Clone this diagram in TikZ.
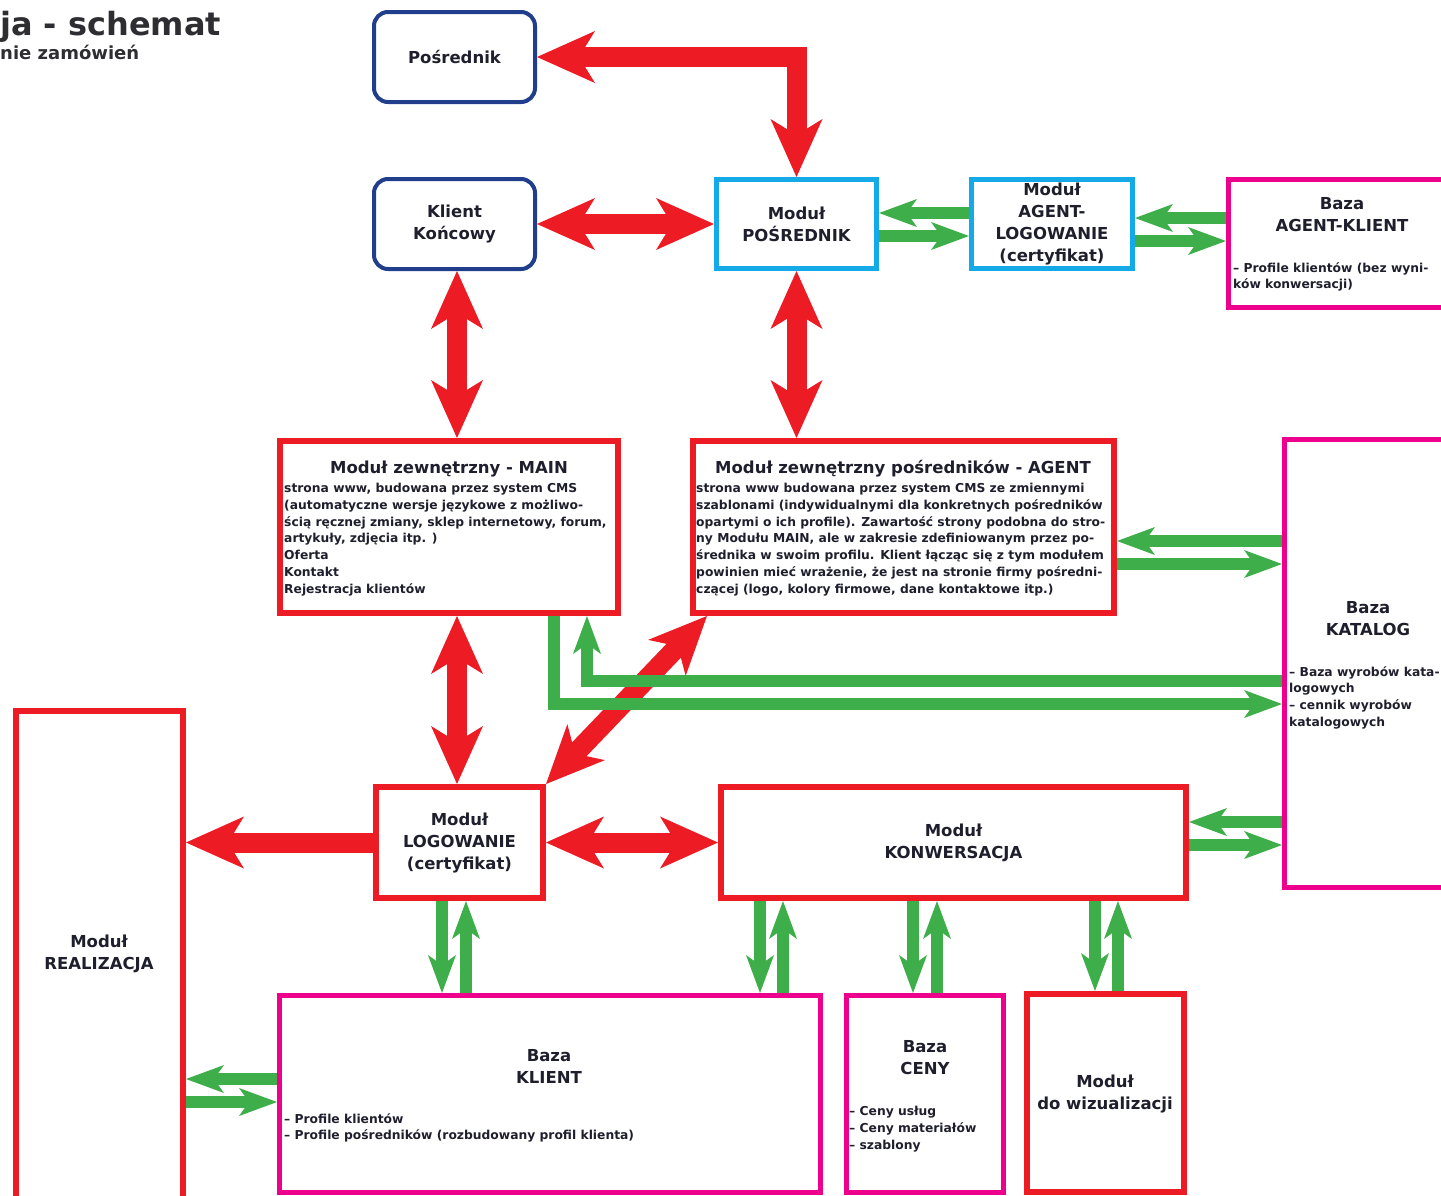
\documentclass[tikz,border=0pt]{standalone}
\usepackage{fontspec}
\setmainfont{DejaVu Sans}
\usetikzlibrary{arrows.meta}
\definecolor{cred}{RGB}{237,28,36}
\definecolor{cgreen}{RGB}{61,174,73}
\definecolor{cmag}{RGB}{236,0,140}
\definecolor{ccyan}{RGB}{20,170,232}
\definecolor{cnavy}{RGB}{32,62,140}
\definecolor{ctext}{RGB}{30,30,45}
\definecolor{chead}{RGB}{45,45,50}
\newcommand\tfnt{\bfseries\fontsize{16.5}{22}\selectfont}
\newcommand\bfnt{\bfseries\fontsize{12.3}{16.8}\selectfont}
\tikzset{
  rtip/.tip={Stealth[length=58pt,width=52pt,inset=16pt,line width=0pt]},
  gtip/.tip={Stealth[length=38pt,width=28pt,inset=10pt,line width=0pt]},
  redarr/.style={draw=cred, line width=20pt},
  grarr/.style={draw=cgreen, line width=12pt, -gtip},
  basebox/.style={inner sep=0pt, align=center, font=\tfnt, text=ctext},
  nbox/.style={basebox, draw=cnavy, line width=4pt, rounded corners=14pt},
  cbox/.style={basebox, draw=ccyan, line width=5pt},
  rbox/.style={basebox, draw=cred, line width=6pt},
  mbox/.style={basebox, draw=cmag, line width=5pt},
  tnode/.style={inner sep=0pt, align=center, font=\tfnt, text=ctext},
  bnode/.style={inner sep=0pt, align=left, font=\bfnt, text=ctext, anchor=north west},
}
\begin{document}
\begin{tikzpicture}[x=1pt,y=-1pt]
\useasboundingbox (0,0) rectangle (1441,1195);
% heading
\node[anchor=base west, inner sep=0pt, font=\bfseries\fontsize{32}{36}\selectfont, text=chead] (head1) at (0,35) {ja - schemat};
\node[anchor=base west, inner sep=0pt, font=\bfseries\fontsize{18}{20}\selectfont, text=chead] (head2) at (0,59) {nie zamówień};
% boxes
\node[nbox, minimum width=161pt, minimum height=90pt] (posr) at (454.5,57) {Pośrednik};
\node[nbox, minimum width=161pt, minimum height=90pt] (klient) at (454.5,224) {Klient\\Końcowy};
\node[cbox, minimum width=160pt, minimum height=89pt] (modposr) at (796.5,224) {Moduł\\POŚREDNIK};
\node[cbox, minimum width=161pt, minimum height=89pt] (agentlog) at (1052,224) {Moduł\\AGENT-\\LOGOWANIE\\(certyfikat)};
\node[mbox, minimum width=235pt, minimum height=128pt] (akl) at (1346,243.5) {};
\node[tnode] (aklT) at (1342,215) {Baza\\AGENT-KLIENT};
\node[bnode] (aklB) at (1233,262) {– Profile klientów (bez wyni-\\ków konwersacji)};

\node[rbox, minimum width=338pt, minimum height=172pt] (main) at (449,527) {};
\node[tnode] (mainT) at (449,469) {Moduł zewnętrzny - MAIN};
\node[bnode] (mainB) at (284,483) {strona www, budowana przez system CMS\\(automatyczne wersje językowe z możliwo-\\ścią ręcznej zmiany, sklep internetowy, forum,\\artykuły, zdjęcia itp. )\\Oferta\\Kontakt\\Rejestracja klientów};

\node[rbox, minimum width=421pt, minimum height=172pt] (agent) at (903.5,527) {};
\node[tnode] (agentT) at (903,469) {Moduł zewnętrzny pośredników - AGENT};
\node[bnode] (agentB) at (696,483) {strona www budowana przez system CMS ze zmiennymi\\szablonami (indywidualnymi dla konkretnych pośredników\\opartymi o ich profile). Zawartość strony podobna do stro-\\ny Modułu MAIN, ale w zakresie zdefiniowanym przez po-\\średnika w swoim profilu. Klient łącząc się z tym modułem\\powinien mieć wrażenie, że jest na stronie firmy pośredni-\\czącej (logo, kolory firmowe, dane kontaktowe itp.)};

\node[mbox, minimum width=173pt, minimum height=448pt] (katalog) at (1371,663.5) {};
\node[tnode] (katT) at (1368,619) {Baza\\KATALOG};
\node[bnode] (katB) at (1289,666) {– Baza wyrobów kata-\\logowych\\– cennik wyrobów\\katalogowych};

\node[rbox, minimum width=167pt, minimum height=501pt] (realiz) at (99.5,961.5) {};
\node[tnode] (realT) at (99,954) {Moduł\\REALIZACJA};

\node[rbox, minimum width=167pt, minimum height=111pt] (logow) at (459.5,842.5) {Moduł\\LOGOWANIE\\(certyfikat)};
\node[rbox, minimum width=465pt, minimum height=111pt] (konw) at (953.5,842.5) {Moduł\\KONWERSACJA};

\node[mbox, minimum width=541pt, minimum height=197pt] (klientb) at (550,1094) {};
\node[tnode] (klbT) at (549,1066) {Baza\\KLIENT};
\node[bnode] (klbB) at (284,1113) {– Profile klientów\\– Profile pośredników (rozbudowany profil klienta)};

\node[mbox, minimum width=157pt, minimum height=197pt] (ceny) at (925,1094) {};
\node[tnode] (cenyT) at (925,1058) {Baza\\CENY};
\node[bnode] (cenyB) at (849,1106) {– Ceny usług\\– Ceny materiałów\\– szablony};

\node[rbox, minimum width=157pt, minimum height=198pt] (wiz) at (1105.5,1093) {};
\node[tnode] (wizT) at (1105,1094) {Moduł\\do wizualizacji};

% red arrows
\draw[redarr, rtip-rtip] (posr.east) -| (modposr.north);
\draw[redarr, rtip-rtip] ([xshift=2.5pt]klient.south) -- ([xshift=2.5pt]klient.south |- main.north);
\draw[redarr, rtip-rtip] (klient.east) -- (modposr.west);
\draw[redarr, rtip-rtip] (modposr.south) -- (modposr.south |- agent.north);
\draw[redarr, rtip-rtip] ([xshift=-2.5pt]logow.north |- main.south) -- ([xshift=-2.5pt]logow.north);
\draw[redarr, rtip-rtip] (logow.north east) -- ([xshift=17pt]agent.south west);
\draw[redarr, -rtip] (logow.west) -- (logow.west -| realiz.east);
\draw[redarr, rtip-rtip] (logow.east) -- (konw.west);

% green arrows
\draw[grarr] ([yshift=11pt]agentlog.west) -- ([yshift=11pt]modposr.east);
\draw[grarr] ([yshift=-12pt]modposr.east) -- ([yshift=-12pt]agentlog.west);
\draw[grarr] ([yshift=25.5pt]akl.west) -- ([yshift=6pt]agentlog.east);
\draw[grarr] ([yshift=-17pt]agentlog.east) -- ([yshift=2.5pt]akl.west);
\draw[grarr] ([yshift=122.5pt]katalog.west) -- ([yshift=-14pt]agent.east);
\draw[grarr] ([yshift=-37pt]agent.east) -- ([yshift=99.5pt]katalog.west);
\draw[grarr] ([xshift=105pt]main.south) |- ([yshift=-40.5pt]katalog.west);
\draw[grarr] ([yshift=-17.5pt]katalog.west) -| ([xshift=138pt]main.south);
\draw[grarr] ([yshift=-158.5pt]katalog.west) -- ([yshift=20.5pt]konw.east);
\draw[grarr] ([yshift=-2.5pt]konw.east) -- ([yshift=-181.5pt]katalog.west);
\draw[grarr] ([xshift=-17.5pt]logow.south) -- ([xshift=-108pt]klientb.north);
\draw[grarr] ([xshift=-84pt]klientb.north) -- ([xshift=6.5pt]logow.south);
\draw[grarr] ([xshift=-193.5pt]konw.south) -- ([xshift=210pt]klientb.north);
\draw[grarr] ([xshift=233pt]klientb.north) -- ([xshift=-170.5pt]konw.south);
\draw[grarr] ([xshift=-40.5pt]konw.south) -- ([xshift=-12pt]ceny.north);
\draw[grarr] ([xshift=12pt]ceny.north) -- ([xshift=-16.5pt]konw.south);
\draw[grarr] ([xshift=141.5pt]konw.south) -- ([xshift=-10.5pt]wiz.north);
\draw[grarr] ([xshift=12.5pt]wiz.north) -- ([xshift=164.5pt]konw.south);
\draw[grarr] ([yshift=15pt]klientb.west) -- ([yshift=-117.5pt]realiz.east);
\draw[grarr] ([yshift=-140.5pt]realiz.east) -- ([yshift=-8pt]klientb.west);
\end{tikzpicture}
\end{document}
